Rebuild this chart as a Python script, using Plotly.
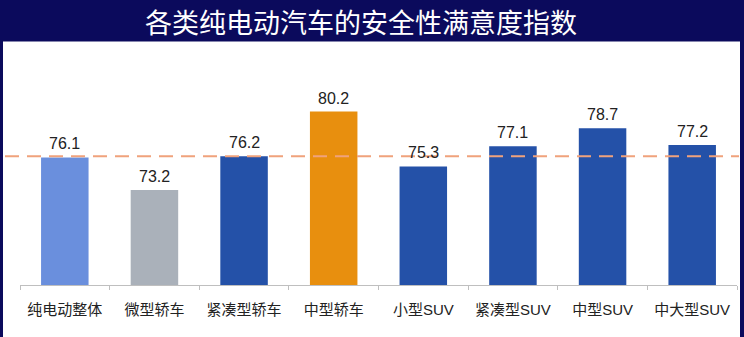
import plotly.graph_objects as go

# Safety satisfaction index by BEV segment
categories = ["纯电动整体", "微型轿车", "紧凑型轿车", "中型轿车", "小型SUV", "紧凑型SUV", "中型SUV", "中大型SUV"]
values = [76.1, 73.2, 76.2, 80.2, 75.3, 77.1, 78.7, 77.2]
bar_colors = ["#6a8fdd", "#aab1ba", "#2451a8", "#e88f0e", "#2451a8", "#2451a8", "#2451a8", "#2451a8"]
reference_level = 76.2
title_text = "各类纯电动汽车的安全性满意度指数"

W, H = 744, 337
NAVY = "#0b0a5c"
CJK = "Noto Sans CJK SC, Noto Sans, sans-serif"
MIXED = "Liberation Sans, Noto Sans CJK SC, sans-serif"

fig = go.Figure()
fig.add_trace(go.Bar(
    x=categories, y=values,
    marker=dict(color=bar_colors, line=dict(width=0)),
    width=0.53,
    hoverinfo="x+y",
))

# value labels above each bar
for c, v in zip(categories, values):
    fig.add_annotation(
        x=c, y=v, text=f"{v:.1f}", showarrow=False,
        yanchor="bottom", yshift=3,
        font=dict(family="Liberation Sans, Arial, sans-serif", size=16, color="#222222"),
    )

# white panel below the title band
fig.add_shape(type="rect", xref="paper", yref="paper",
              x0=3 / W, x1=740 / W, y0=0, y1=(H - 41.5) / H,
              fillcolor="white", line=dict(width=0), layer="below")

# dashed reference line across the panel
fig.add_shape(type="line", xref="paper", yref="y",
              x0=5 / W, x1=739 / W, y0=reference_level, y1=reference_level,
              line=dict(color="#f0a27c", width=2, dash="14px,8px"), layer="above")

fig.add_annotation(
    text=title_text, xref="paper", yref="paper",
    x=361 / W, y=(H - 21) / H, xanchor="center", yanchor="middle",
    showarrow=False, font=dict(family=CJK, size=27, color="white"),
)

fig.update_layout(
    width=W, height=H,
    margin=dict(l=0, r=0, t=0, b=0),
    paper_bgcolor=NAVY, plot_bgcolor="rgba(0,0,0,0)",
    showlegend=False,
    xaxis=dict(
        domain=[20 / W, 737 / W],
        showline=True, linecolor="#bfbfbf", linewidth=1,
        ticks="outside", tickson="boundaries", ticklen=4, tickcolor="#bfbfbf",
        ticklabelstandoff=11,
        tickfont=dict(family=MIXED, size=15, color="#222222"),
        showgrid=False, zeroline=False,
    ),
    yaxis=dict(
        domain=[52 / H, 275.8 / H],
        range=[64.7, 84.7],
        visible=False, showgrid=False, zeroline=False,
    ),
)

fig.write_html("out.html")
